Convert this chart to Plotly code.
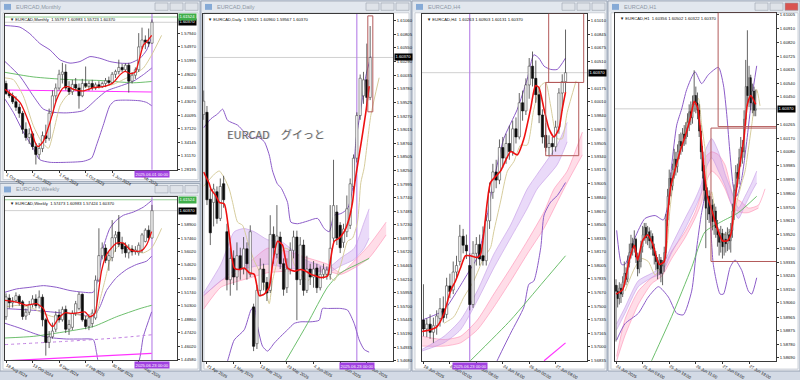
import plotly.graph_objects as go

W, H = 800, 380
FONT = "Liberation Sans"
AXF = 4.2

# ======================= DATA =======================
# ---- Monthly (Oct 2021 .. Jun 2025) ----
m_open = [1.4700,1.4480,1.4430,1.4300,1.4180,1.4050,1.3700,1.3520,1.3600,1.3320,1.3150,1.3280,1.3560,1.3500,1.4050,
          1.4430,1.4600,1.4900,1.4950,1.4600,1.4520,1.4680,1.4600,1.4430,1.4700,1.4640,1.4700,1.4600,1.4670,1.4630,
          1.4700,1.4760,1.4720,1.4900,1.4960,1.5050,1.5000,1.5100,1.4750,1.4880,1.5000,1.5500,1.5650,1.5600,1.5580]
m_high = [1.4760,1.4560,1.4500,1.4420,1.4260,1.4100,1.3850,1.3720,1.3650,1.3400,1.3400,1.3650,1.3800,1.4150,1.4550,
          1.4700,1.5000,1.5150,1.5120,1.4750,1.4780,1.4820,1.4700,1.4800,1.5070,1.4760,1.4780,1.4720,1.4750,1.4740,
          1.4820,1.4850,1.4950,1.5000,1.5220,1.5130,1.5140,1.5150,1.4950,1.5050,1.5800,1.5920,1.5750,1.5900,1.6098]
m_low = [1.4450,1.4380,1.4250,1.4100,1.3950,1.3600,1.3450,1.3380,1.3250,1.2930,1.3050,1.3200,1.3400,1.3450,1.4000,
         1.4300,1.4550,1.4700,1.4550,1.4450,1.4450,1.4550,1.4150,1.4400,1.4600,1.4540,1.4550,1.4560,1.4590,1.4600,
         1.4620,1.4680,1.4690,1.4820,1.4900,1.4950,1.4950,1.4500,1.4700,1.4800,1.4950,1.5450,1.5450,1.5500,1.5572]
m_close = [1.4480,1.4430,1.4300,1.4180,1.4050,1.3700,1.3520,1.3600,1.3320,1.3150,1.3280,1.3560,1.3500,1.4050,1.4430,
           1.4600,1.4900,1.4950,1.4600,1.4520,1.4680,1.4600,1.4430,1.4700,1.4640,1.4700,1.4600,1.4670,1.4630,1.4700,
           1.4760,1.4720,1.4900,1.4960,1.5050,1.5000,1.5100,1.4750,1.4880,1.5000,1.5500,1.5650,1.5600,1.5580,1.6037]
m_date_pos = [0, 8, 16, 24, 32, 40]
m_date_txt = ["1 Oct 2021", "1 Jun 2022", "1 Feb 2023", "1 Oct 2023", "1 Jun 2024", "1 Feb 2025"]
m_price_txt = ["1.57940","1.54970","1.51995","1.49020","1.46045","1.43070","1.40095","1.37120","1.34145","1.31170","1.28195"]
m_bb_up = [(-0.3,1.5966),(4.2,1.5930),(7.2,1.5787),(10.2,1.5573),(13.3,1.5430),(16.3,1.5215),(19.3,1.5144),(22.3,1.5179),
           (25.3,1.5287),(28.3,1.5251),(31.3,1.5179),(34.4,1.5144),(37.4,1.5144),(40.4,1.5251),(42.4,1.5430),(43.9,1.5716)]
m_bb_mid = [(-0.3,1.5179),(4.2,1.4857),(8.2,1.4429),(11.2,1.4143),(14.3,1.4071),(18.3,1.4057),(23.3,1.4107),(27.3,1.4357),
            (30.3,1.4536),(34.4,1.4643),(38.4,1.4750),(41.4,1.4893),(43.9,1.5036)]
m_bb_lo = [(-0.3,1.4357),(2.2,1.4071),(5.2,1.3642),(8.2,1.3285),(10.2,1.3034),(13.3,1.2977),(18.3,1.2977),(23.3,1.2999),
           (25.8,1.3070),(27.3,1.3356),(29.3,1.3785),(31.3,1.4214),(32.8,1.4321),(36.4,1.4336),(40.4,1.4321),(42.4,1.4285),(43.9,1.4214)]
m_beige = [(-0.3,1.4822),(2.2,1.4786),(5.2,1.4429),(8.2,1.3785),(10.7,1.3428),(12.8,1.3285),(14.3,1.3642),(16.3,1.4214),
           (18.3,1.4429),(21.3,1.4572),(24.3,1.4629),(28.3,1.4629),(32.3,1.4679),(35.4,1.4786),(38.4,1.4893),(41.4,1.5036),
           (43.9,1.5322),(46.9,1.5751)]
m_red = [(-0.3,1.4572),(4.2,1.4285),(7.2,1.3785),(8.7,1.3428),(9.7,1.3320),(11.2,1.3428),(13.3,1.3857),(15.3,1.4357),
         (17.3,1.4607),(18.8,1.4629),(20.3,1.4572),(23.3,1.4536),(26.3,1.4607),(29.3,1.4629),(32.3,1.4715),(34.4,1.4893),
         (35.9,1.4965),(37.4,1.4915),(38.9,1.4943),(40.4,1.5287),(41.4,1.5537),(42.4,1.5608),(43.9,1.5751)]
m_green = [(-0.3,1.4943),(8.2,1.4843),(18.3,1.4786),(28.3,1.4765),(38.4,1.4715),(43.9,1.4743)]
m_magenta = [(-0.3,1.4557),(43.9,1.4514)]

# ---- Weekly (18 Aug 2024 .. 22 Jun 2025) ----
w_open = [1.4913,1.5110,1.5060,1.5085,1.5130,1.5070,1.4920,1.4960,1.5040,1.5100,1.5030,1.5120,1.4880,1.4640,1.4700,
          1.4780,1.4930,1.4880,1.4990,1.4780,1.4800,1.4950,1.5000,1.5150,1.4880,1.4810,1.4840,1.4900,1.5300,1.5560,
          1.5640,1.5510,1.5540,1.5750,1.5810,1.5690,1.5660,1.5590,1.5630,1.5600,1.5590,1.5620,1.5710,1.5830,1.5747]
w_high = [1.5160,1.5150,1.5120,1.5170,1.5150,1.5090,1.5000,1.5080,1.5140,1.5150,1.5191,1.5150,1.4900,1.4760,1.4850,
          1.4970,1.4990,1.5020,1.5030,1.4880,1.4980,1.5080,1.5174,1.5160,1.4920,1.4940,1.4990,1.5350,1.5850,1.5700,
          1.5680,1.5600,1.5936,1.5820,1.5990,1.5760,1.5700,1.5680,1.5670,1.5660,1.5700,1.5800,1.5850,1.5880,1.6098]
w_low = [1.4880,1.5000,1.5010,1.5060,1.5030,1.4880,1.4880,1.4930,1.5010,1.5000,1.5000,1.4810,1.4500,1.4580,1.4680,
         1.4750,1.4850,1.4860,1.4740,1.4720,1.4770,1.4920,1.4980,1.4860,1.4780,1.4770,1.4800,1.4880,1.5280,1.5520,
         1.5480,1.5400,1.5500,1.5600,1.5650,1.5580,1.5540,1.5530,1.5560,1.5570,1.5560,1.5590,1.5700,1.5720,1.5742]
w_close = [1.5122,1.5060,1.5080,1.5135,1.5060,1.4915,1.4960,1.5040,1.5100,1.5030,1.5120,1.4880,1.4640,1.4700,1.4760,
           1.4930,1.4880,1.4990,1.4780,1.4830,1.4950,1.5050,1.5150,1.4880,1.4810,1.4900,1.4950,1.5300,1.5560,1.5640,
           1.5510,1.5560,1.5750,1.5780,1.5680,1.5630,1.5590,1.5630,1.5600,1.5620,1.5670,1.5780,1.5830,1.5750,1.6037]
w_date_pos = [0, 8, 16, 24, 32, 40]
w_date_txt = ["18 Aug 2024", "13 Oct 2024", "8 Dec 2024", "2 Feb 2025", "30 Mar 2025", "25 May 2025"]
w_price_txt = ["1.58900","1.57460","1.56020","1.54620","1.53180","1.51740","1.50300","1.48860","1.47420","1.46020","1.44580"]
w_bb_up = [(-0.3,1.5172),(3.2,1.5207),(7.2,1.5224),(11.3,1.5242),(15.3,1.5224),(19.3,1.5190),(23.3,1.5172),(26.3,1.5172),
           (27.8,1.5328),(29.3,1.5641),(31.3,1.5849),(33.3,1.5935),(35.4,1.5988),(38.4,1.6022),(41.4,1.6074),(43.9,1.6144)]
w_bb_mid = [(-0.3,1.4999),(8.2,1.4981),(18.3,1.4947),(23.3,1.4930),(26.3,1.4912),(28.3,1.5016),(30.3,1.5190),(33.3,1.5328),
            (36.4,1.5415),(39.4,1.5467),(42.4,1.5502),(43.9,1.5554)]
w_bb_lo = [(-0.3,1.4843),(4.2,1.4791),(8.2,1.4738),(11.3,1.4704),(14.3,1.4687),(18.3,1.4676),(22.3,1.4676),(26.3,1.4669),
           (27.3,1.4531),(28.3,1.4392),(39.4,1.4392),(41.4,1.4704),(43.9,1.4964)]
w_beige = [(-0.3,1.5016),(4.2,1.5034),(8.2,1.4999),(11.3,1.4947),(14.3,1.4912),(18.3,1.4947),(22.3,1.4930),(25.3,1.4912),
           (27.3,1.4947),(28.3,1.5086),(29.8,1.5294),(31.3,1.5502),(33.3,1.5641),(35.4,1.5693),(37.4,1.5641),(39.4,1.5606),
           (41.4,1.5589),(43.9,1.5641),(46.9,1.5849)]
w_red = [(-0.3,1.5086),(3.2,1.5068),(6.2,1.5034),(9.2,1.5051),(11.3,1.4999),(12.8,1.4860),(14.1,1.4808),(15.8,1.4895),
         (17.8,1.4954),(19.8,1.4947),(21.8,1.4954),(23.8,1.4964),(25.3,1.4912),(26.8,1.4947),(27.8,1.5155),(28.8,1.5398),
         (30.3,1.5571),(31.8,1.5641),(33.3,1.5693),(35.4,1.5693),(37.4,1.5623),(39.4,1.5606),(40.9,1.5613),(42.4,1.5675),(43.9,1.5814)]
w_green = [(-0.3,1.4687),(8.2,1.4704),(18.3,1.4756),(26.3,1.4808),(33.3,1.4912),(40.4,1.4999),(43.9,1.5034)]
w_dotted = [(-0.3,1.4617),(18.3,1.4652),(33.3,1.4687),(43.9,1.4721)]
w_magenta = [(-0.3,1.4444),(43.9,1.4524)]

# ---- Daily (bars -1 .. 49, 0 = 21 Apr 2025) ----
d_open = [1.5930,1.5934,1.5771,1.5765,1.5785,1.5735,1.5800,1.5710,1.5620,1.5660,1.5625,1.5665,1.5640,1.5678,1.5630,1.5569,
          1.5500,1.5600,1.5640,1.5615,1.5600,1.5705,1.5668,1.5700,1.5650,1.5605,1.5640,1.5675,1.5700,1.5620,1.5685,1.5600,
          1.5640,1.5625,1.5642,1.5605,1.5630,1.5630,1.5630,1.5698,1.5747,1.5722,1.5690,1.5710,1.5722,1.5795,1.5848,1.5928,
          1.5965,1.5995,1.5962]
d_high = [1.5975,1.5946,1.5790,1.5800,1.5795,1.5810,1.5815,1.5725,1.5680,1.5675,1.5690,1.5680,1.5700,1.5690,1.5722,1.5575,
          1.5610,1.5660,1.5650,1.5625,1.5741,1.5720,1.5760,1.5710,1.5660,1.5660,1.5690,1.5712,1.5712,1.5700,1.5695,1.5665,
          1.5650,1.5655,1.5650,1.5645,1.5650,1.5645,1.5760,1.5845,1.5760,1.5728,1.5725,1.5778,1.5810,1.5855,1.5934,1.6005,
          1.6010,1.6063,1.6096]
d_low = [1.5920,1.5760,1.5685,1.5720,1.5725,1.5730,1.5755,1.5600,1.5590,1.5610,1.5600,1.5620,1.5630,1.5620,1.5625,1.5486,
         1.5490,1.5590,1.5600,1.5580,1.5595,1.5650,1.5660,1.5640,1.5590,1.5595,1.5630,1.5660,1.5544,1.5610,1.5590,1.5595,
         1.5610,1.5605,1.5595,1.5600,1.5622,1.5620,1.5620,1.5690,1.5685,1.5670,1.5680,1.5700,1.5715,1.5785,1.5840,1.5920,
         1.5950,1.5945,1.5957]
d_close = [1.5955,1.5770,1.5708,1.5790,1.5735,1.5795,1.5770,1.5620,1.5660,1.5625,1.5665,1.5640,1.5678,1.5650,1.5710,1.5495,
           1.5600,1.5640,1.5615,1.5595,1.5705,1.5680,1.5702,1.5650,1.5602,1.5640,1.5675,1.5700,1.5620,1.5685,1.5600,1.5640,
           1.5625,1.5640,1.5605,1.5630,1.5640,1.5638,1.5679,1.5759,1.5698,1.5680,1.5715,1.5753,1.5800,1.5848,1.5928,1.5998,
           1.5995,1.5962,1.6037]
d_date_pos = [0, 8, 16, 24, 32, 40, 48]
d_date_txt = ["21 Apr 2025", "1 May 2025", "13 May 2025", "23 May 2025", "4 Jun 2025", "16 Jun 2025", "26 Jun 2025"]
d_price_txt = ["1.61060","1.60805","1.60550","1.60290","1.60035","1.59780","1.59525","1.59270","1.59015","1.58760","1.58505",
               "1.58250","1.57995","1.57740","1.57485","1.57230","1.56975","1.56720","1.56465","1.56210","1.55955","1.55700",
               "1.55445","1.55190","1.54935","1.54680"]
d_bb_up = [(-1.0,1.5905),(1.2,1.5922),(3.2,1.5931),(4.7,1.5940),(6.2,1.5919),(9.2,1.5910),(11.2,1.5897),(13.2,1.5885),
           (15.2,1.5888),(17.2,1.5879),(18.7,1.5854),(19.7,1.5824),(21.2,1.5799),(22.2,1.5793),(24.2,1.5765),(25.2,1.5728),
           (27.2,1.5725),(30.2,1.5730),(33.2,1.5735),(35.2,1.5716),(36.7,1.5710),(38.2,1.5741),(40.2,1.5744),(42.2,1.5753),
           (43.7,1.5790),(44.7,1.5879),(46.2,1.5940),(47.7,1.6002),(49.2,1.6039)]
d_bb_lo = [(4.5,1.5440),(6.2,1.5468),(8.2,1.5507),(11.2,1.5526),(13.2,1.5563),(14.2,1.5569),(15.2,1.5532),(16.7,1.5495),
           (18.2,1.5486),(20.2,1.5501),(22.2,1.5514),(24.2,1.5526),(26.2,1.5538),(28.2,1.5541),(31.2,1.5541),(33.7,1.5544),
           (34.7,1.5566),(36.2,1.5566),(40.2,1.5566),(42.2,1.5563),(44.2,1.5538),(45.7,1.5507),(47.2,1.5489),(48.7,1.5484)]
d_red = [(-1.0,1.5822),(0.7,1.5800),(1.2,1.5790),(2.7,1.5777),(3.7,1.5765),(5.2,1.5762),(6.7,1.5704),(8.2,1.5642),
         (9.7,1.5639),(11.2,1.5642),(12.7,1.5633),(14.2,1.5630),(15.7,1.5590),(17.2,1.5593),(18.7,1.5606),(19.7,1.5649),
         (21.2,1.5692),(22.7,1.5685),(24.2,1.5642),(26.2,1.5636),(28.2,1.5639),(29.7,1.5636),(31.2,1.5630),(32.7,1.5627),
         (34.2,1.5624),(36.2,1.5627),(37.2,1.5661),(38.2,1.5692),(39.7,1.5698),(41.2,1.5710),(42.7,1.5735),(43.7,1.5765),
         (44.4,1.5802),(46.2,1.5873),(47.7,1.5934),(48.7,1.5983)]
d_beige = [(-1.0,1.5795),(2.2,1.5818),(3.7,1.5824),(5.2,1.5811),(6.7,1.5790),(7.7,1.5765),(9.2,1.5728),(10.7,1.5722),
           (12.2,1.5692),(14.2,1.5655),(16.2,1.5630),(17.7,1.5599),(18.7,1.5575),(19.7,1.5618),(21.2,1.5655),(23.2,1.5679),
           (24.7,1.5676),(26.2,1.5649),(28.2,1.5630),(30.2,1.5618),(32.2,1.5630),(34.2,1.5624),(36.2,1.5630),(38.2,1.5618),
           (40.2,1.5649),(42.2,1.5692),(43.7,1.5698),(45.2,1.5728),(46.2,1.5802),(47.2,1.5830),(49.2,1.5928),(51.7,1.5999)]
d_green = [(23.7,1.5468),(30.2,1.5538),(36.2,1.5606),(40.2,1.5633),(45.2,1.5649),(48.7,1.5660)]
d_rib_pu_hi = [(-1.0,1.5595),(4.2,1.5649),(8.2,1.5710),(11.2,1.5716),(14.2,1.5710),(18.2,1.5695),(22.2,1.5692),(26.2,1.5673),
               (30.2,1.5655),(33.2,1.5649),(36.2,1.5642),(40.2,1.5661),(44.2,1.5679),(47.2,1.5728),(48.7,1.5753)]
d_rib_pu_lo = [(-1.0,1.5590),(4.2,1.5618),(8.2,1.5636),(12.2,1.5642),(18.2,1.5649),(24.2,1.5642),(30.2,1.5639),(36.2,1.5633),
               (40.2,1.5646),(44.2,1.5658),(47.2,1.5679),(48.7,1.5698)]
d_rib_pk_hi = [(-1.0,1.5590),(4.2,1.5618),(8.2,1.5630),(13.2,1.5655),(18.2,1.5679),(24.2,1.5673),(30.2,1.5661),(36.2,1.5649),
               (40.2,1.5633),(44.2,1.5655),(48.7,1.5685),(53.8,1.5728)]
d_rib_pk_lo = [(-1.0,1.5565),(4.2,1.5606),(8.2,1.5615),(13.2,1.5624),(18.2,1.5633),(24.2,1.5636),(30.2,1.5636),(36.2,1.5636),
               (40.2,1.5630),(44.2,1.5642),(48.7,1.5661),(53.8,1.5704)]

# ---- H4 (bars 0 .. 43, 0 = 18 Jun 16:00) ----
h4_open = [1.5733,1.5722,1.5728,1.5718,1.5726,1.5735,1.5747,1.5740,1.5775,1.5770,1.5792,1.5805,1.5836,1.5825,1.5800,
           1.5752,1.5815,1.5826,1.5812,1.5806,1.5855,1.5890,1.5915,1.5905,1.5945,1.5932,1.5950,1.5940,1.5968,1.5958,
           1.6000,1.5990,1.6022,1.6045,1.6030,1.6010,1.5985,1.5960,1.5945,1.5950,1.5946,1.5970,1.6012,1.6026]
h4_high = [1.5777,1.5735,1.5740,1.5736,1.5745,1.5760,1.5762,1.5785,1.5790,1.5805,1.5812,1.5850,1.5845,1.5838,1.5815,
           1.5830,1.5835,1.5838,1.5848,1.5862,1.5902,1.5925,1.5930,1.5955,1.5958,1.5962,1.5972,1.5978,1.5982,1.6012,
           1.6015,1.6030,1.6055,1.6063,1.6052,1.6018,1.5992,1.5975,1.5960,1.5958,1.5978,1.6018,1.6035,1.6090]
h4_low = [1.5713,1.5712,1.5710,1.5705,1.5715,1.5725,1.5730,1.5735,1.5760,1.5765,1.5783,1.5800,1.5815,1.5808,1.5745,
          1.5748,1.5800,1.5800,1.5800,1.5800,1.5845,1.5882,1.5895,1.5900,1.5920,1.5925,1.5930,1.5935,1.5950,1.5955,
          1.5978,1.5985,1.6005,1.6020,1.6000,1.5975,1.5950,1.5940,1.5934,1.5936,1.5940,1.5962,1.5990,1.6013]
h4_close = [1.5722,1.5728,1.5718,1.5726,1.5738,1.5747,1.5736,1.5775,1.5768,1.5792,1.5800,1.5836,1.5825,1.5818,1.5752,
            1.5815,1.5826,1.5808,1.5806,1.5855,1.5890,1.5915,1.5905,1.5945,1.5932,1.5950,1.5940,1.5968,1.5958,1.6000,
            1.5990,1.6022,1.6045,1.6030,1.6010,1.5985,1.5958,1.5945,1.5950,1.5946,1.5970,1.6012,1.6026,1.6037]
h4_date_pos = [0, 8, 16, 24, 32, 40]
h4_date_txt = ["18 Jun 2025", "20 Jun 00:00", "23 Jun 08:00", "24 Jun 16:00", "26 Jun 00:00", "27 Jun 08:00"]
# (the 1.60340 tick sits under the current-price box in the reference, so it is not listed)
h4_price_txt = ["1.61010","1.60845","1.60675","1.60510","1.60175","1.60010","1.59840","1.59675","1.59505","1.59340",
                "1.59175","1.59005","1.58840","1.58670","1.58505","1.58335","1.58170","1.58005","1.57835","1.57670","1.57500",
                "1.57335","1.57165","1.57000","1.56835"]
h4_bb_up = [(-0.4,1.5733),(2.1,1.5737),(6.2,1.5745),(10.2,1.5769),(13.2,1.5789),(16.3,1.5810),(18.3,1.5842),(19.3,1.5862),
            (21.3,1.5905),(24.3,1.5956),(28.4,1.5992),(31.4,1.6029),(33.4,1.6059),(34.9,1.6055),(36.5,1.6045),(38.5,1.6041),
            (40.5,1.6041),(43.0,1.6055)]
h4_bb_lo = [(20.0,1.5660),(22.3,1.5683),(26.4,1.5717),(30.4,1.5749),(31.9,1.5777),(33.4,1.5781),(35.5,1.5822),(36.5,1.5862),
            (38.5,1.5878),(40.5,1.5886),(43.0,1.5902)]
h4_red = [(-0.4,1.5719),(2.1,1.5721),(4.1,1.5725),(6.2,1.5741),(8.2,1.5769),(9.7,1.5781),(11.2,1.5797),(12.7,1.5812),
          (14.2,1.5812),(16.3,1.5810),(17.3,1.5814),(19.3,1.5878),(20.3,1.5902),(23.3,1.5916),(26.4,1.5940),(28.4,1.5936),
          (30.4,1.5956),(32.4,1.5992),(33.9,1.6021),(34.9,1.6019),(36.5,1.5992),(38.0,1.5968),(39.5,1.5958),(41.0,1.5968),
          (42.0,1.5992),(43.0,1.6013)]
h4_beige = [(6.2,1.5729),(9.2,1.5737),(12.2,1.5761),(15.2,1.5781),(18.3,1.5810),(20.3,1.5822),(21.3,1.5842),(23.3,1.5878),
            (25.4,1.5916),(27.4,1.5928),(29.4,1.5948),(31.4,1.5948),(33.4,1.5992),(35.5,1.6021),(37.0,1.6025),(38.5,1.5996),
            (40.5,1.5956),(42.0,1.5956),(43.5,1.5988),(46.2,1.6027)]
h4_green = [(14.2,1.5683),(26.4,1.5733),(36.5,1.5781),(43.0,1.5812)]
h4_magenta = [(36.5,1.5683),(43.0,1.5705)]
h4_rib_pu_hi = [(-0.4,1.5697),(6.2,1.5713),(11.2,1.5733),(16.3,1.5769),(21.3,1.5814),(26.4,1.5850),(31.4,1.5894),
                (34.4,1.5912),(40.5,1.5948),(43.5,1.5976)]
h4_rib_pu_lo = [(-0.4,1.5695),(6.2,1.5705),(11.2,1.5721),(16.3,1.5757),(21.3,1.5797),(26.4,1.5834),(31.4,1.5870),
                (34.4,1.5894),(40.5,1.5924),(43.5,1.5952)]
h4_rib_pk_hi = [(-0.4,1.5713),(6.2,1.5709),(11.2,1.5713),(16.3,1.5733),(21.3,1.5765),(26.4,1.5797),(31.4,1.5830),
                (36.5,1.5866),(39.5,1.5894),(43.5,1.5916),(48.1,1.5964)]
h4_rib_pk_lo = [(-0.4,1.5701),(6.2,1.5701),(11.2,1.5705),(16.3,1.5721),(21.3,1.5749),(26.4,1.5781),(31.4,1.5814),
                (36.5,1.5846),(41.0,1.5882),(43.5,1.5902),(48.1,1.5936)]

# ---- H1 (bars 0 .. 84, 0 = 24 Jun 11:00) ----
h1_open0 = 1.5918
h1_close = [1.5914,1.5909,1.5916,1.5912,1.5920,1.5926,1.5922,1.5933,1.5940,1.5946,1.5943,1.5949,1.5937,1.5929,1.5934,
            1.5944,1.5952,1.5957,1.5950,1.5954,1.5948,1.5951,1.5943,1.5938,1.5934,1.5929,1.5935,1.5926,1.5931,1.5940,
            1.5962,1.5978,1.5990,1.5985,1.5996,1.6003,1.5998,1.6008,1.6015,1.6012,1.6020,1.6017,1.6024,1.6028,1.6035,
            1.6031,1.6040,1.6046,1.6041,1.6036,1.6022,1.6008,1.5995,1.5982,1.5970,1.5978,1.5966,1.5972,1.5961,1.5968,
            1.5957,1.5952,1.5947,1.5953,1.5944,1.5949,1.5946,1.5952,1.5948,1.5955,1.5968,1.5982,1.5994,1.5990,1.6004,
            1.6011,1.6008,1.6030,1.6052,1.6046,1.6058,1.6041,1.6049,1.6036,1.6037]
h1_high = [1.5922,1.5918,1.5920,1.5919,1.5924,1.5934,1.5930,1.5938,1.5946,1.5952,1.5950,1.5955,1.5950,1.5940,1.5940,
           1.5948,1.5958,1.5960,1.5960,1.5958,1.5957,1.5955,1.5953,1.5946,1.5941,1.5937,1.5939,1.5937,1.5935,1.5944,
           1.5966,1.5983,1.5996,1.5994,1.6000,1.6010,1.6008,1.6013,1.6020,1.6021,1.6024,1.6026,1.6028,1.6034,1.6040,
           1.6042,1.6046,1.6063,1.6052,1.6048,1.6040,1.6026,1.6012,1.5999,1.5986,1.5984,1.5982,1.5978,1.5976,1.5973,
           1.5971,1.5962,1.5956,1.5958,1.5956,1.5953,1.5954,1.5957,1.5956,1.5960,1.5973,1.5986,1.5999,1.6000,1.6010,
           1.6018,1.6016,1.6036,1.6070,1.6090,1.6066,1.6060,1.6054,1.6052,1.6050]
h1_low = [1.5880,1.5903,1.5905,1.5906,1.5910,1.5917,1.5918,1.5920,1.5930,1.5936,1.5938,1.5940,1.5933,1.5924,1.5926,
          1.5930,1.5940,1.5948,1.5946,1.5945,1.5943,1.5942,1.5938,1.5932,1.5928,1.5922,1.5925,1.5920,1.5918,1.5927,
          1.5936,1.5958,1.5972,1.5978,1.5982,1.5990,1.5992,1.5994,1.6003,1.6006,1.6008,1.6012,1.6013,1.6018,1.6022,
          1.6026,1.6027,1.6035,1.6034,1.6030,1.6018,1.6003,1.5990,1.5975,1.5943,1.5962,1.5960,1.5958,1.5955,1.5952,
          1.5950,1.5944,1.5938,1.5940,1.5936,1.5938,1.5940,1.5941,1.5942,1.5940,1.5950,1.5962,1.5978,1.5984,1.5986,
          1.5998,1.6000,1.6004,1.6026,1.6040,1.6038,1.6036,1.6034,1.6032,1.6032]
h1_date_pos = [0, 16, 32, 48, 64, 80]
h1_date_txt = ["24 Jun 2025", "25 Jun 03:00", "25 Jun 19:00", "26 Jun 11:00", "27 Jun 03:00", "27 Jun 19:00"]
# (the 1.60355 tick sits under the current-price box in the reference, so it is not listed)
h1_price_txt = ["1.61005","1.60910","1.60820","1.60725","1.60635","1.60540","1.60450","1.60265","1.60170","1.60080",
                "1.59985","1.59895","1.59800","1.59705","1.59615","1.59520","1.59430","1.59335","1.59245","1.59150","1.59060",
                "1.58965","1.58875","1.58780","1.58690"]
h1_bb_up = [(0.4,1.5955),(3.4,1.5932),(5.4,1.5932),(11.4,1.5950),(17.4,1.5963),(23.5,1.5965),(28.5,1.5962),(31.5,1.5974),
            (32.5,1.5987),(33.5,1.5999),(36.5,1.6026),(39.5,1.6037),(42.5,1.6050),(47.5,1.6062),(51.5,1.6054),(55.5,1.6060),
            (61.6,1.6065),(64.6,1.6053),(66.6,1.6033),(68.6,1.6006),(70.6,1.5984),(72.6,1.5978),(75.6,1.5990),(78.6,1.6015),
            (81.6,1.6044),(84.6,1.6066)]
h1_bb_lo = [(0.4,1.5881),(5.4,1.5892),(13.4,1.5899),(19.4,1.5910),(25.5,1.5917),(31.5,1.5910),(36.5,1.5899),(40.5,1.5898),
            (45.5,1.5914),(48.5,1.5943),(51.5,1.5967),(54.5,1.5982),(56.5,1.5965),(58.5,1.5932),(62.6,1.5912),(64.6,1.5912),
            (68.6,1.5930),(71.6,1.5935),(75.6,1.5928),(79.6,1.5914),(81.6,1.5912),(84.6,1.5923)]
h1_red = [(0,1.5912),(4,1.5915),(8,1.5935),(11,1.5945),(13,1.5935),(16,1.5948),(19,1.5952),(22,1.5946),(26,1.5932),
          (29,1.5934),(31,1.5965),(33,1.5985),(36,1.5998),(39,1.6010),(42,1.6020),(45,1.6032),(47,1.6042),(49,1.6038),
          (51,1.6020),(53,1.5995),(55,1.5978),(58,1.5967),(61,1.5956),(64,1.5948),(67,1.5948),(69,1.5952),(71,1.5970),
          (73,1.5988),(75,1.6003),(77,1.6018),(79,1.6040),(81,1.6046),(84,1.6040)]
h1_beige = [(5.4,1.5914),(11.4,1.5930),(15.4,1.5936),(19.4,1.5934),(23.5,1.5925),(27.5,1.5932),(30.5,1.5943),(32.5,1.5970),
            (35.5,1.5995),(39.5,1.6013),(43.5,1.6033),(46.5,1.6039),(49.5,1.6044),(51.5,1.6026),(53.5,1.6010),(55.5,1.5974),
            (57.5,1.5981),(61.6,1.5954),(65.6,1.5952),(69.6,1.5956),(72.6,1.5974),(75.6,1.5987),(77.6,1.5995),(81.6,1.6026),
            (84.6,1.6050),(86.6,1.6039)]
h1_green = [(21.4,1.5867),(33.5,1.5897),(45.5,1.5930),(53.5,1.5954),(63.6,1.5961),(73.6,1.5967),(84.6,1.5978)]
h1_rib_pk_hi = [(0.4,1.5870),(5.4,1.5895),(13.4,1.5914),(21.4,1.5923),(27.5,1.5928),(33.5,1.5941),(41.5,1.5954),(47.5,1.5967),
                (51.5,1.5981),(53.5,1.6004),(57.5,1.6008),(61.6,1.6006),(65.6,1.5999),(68.6,1.5986),(70.6,1.5978),(75.6,1.5974),
                (79.6,1.5970),(85.6,1.5972),(89.6,1.5983)]
h1_rib_pk_lo = [(0.4,1.5867),(5.4,1.5884),(13.4,1.5905),(21.4,1.5919),(27.5,1.5924),(33.5,1.5936),(41.5,1.5950),(47.5,1.5963),
                (51.5,1.5974),(53.5,1.5985),(57.5,1.5995),(61.6,1.5991),(65.6,1.5983),(70.6,1.5970),(75.6,1.5967),(79.6,1.5967),
                (85.6,1.5970)]
h1_rib_pu_hi = [(0.4,1.5892),(5.4,1.5903),(13.4,1.5921),(21.4,1.5926),(27.5,1.5930),(33.5,1.5945),(41.5,1.5963),(47.5,1.5976),
                (51.5,1.5987),(53.5,1.6008),(57.5,1.6017),(61.6,1.6008),(65.6,1.5993),(69.6,1.5981),(73.6,1.5970),(77.6,1.5978),
                (81.6,1.5987),(84.6,1.5995)]
h1_rib_pu_lo = [(0.4,1.5888),(5.4,1.5899),(13.4,1.5917),(21.4,1.5923),(27.5,1.5926),(33.5,1.5940),(41.5,1.5956),(47.5,1.5970),
                (51.5,1.5981),(53.5,1.5995),(57.5,1.6004),(61.6,1.5995),(65.6,1.5985),(69.6,1.5972),(73.6,1.5963),(77.6,1.5972),
                (81.6,1.5981),(84.6,1.5987)]

current_price = 1.6037
current_txt = "1.60370"
level_price = 1.6152
level_txt = "1.61524"

# ======================= FIGURE =======================
fig = go.Figure()

def ax(n):
    return ("x", "y") if n == 1 else (f"x{n}", f"y{n}")

def add_xy(n, xs, ys, color, width=1.0, dash=None, fill=None, fillcolor=None):
    xa, ya = ax(n)
    fig.add_trace(go.Scatter(x=xs, y=ys, xaxis=xa, yaxis=ya, mode="lines",
                             line=dict(color=color, width=width, dash=dash, shape="spline", smoothing=0.6),
                             fill=fill, fillcolor=fillcolor, hoverinfo="skip", showlegend=False))

def add_pts(n, pts, color, width=1.0, dash=None):
    add_xy(n, [p[0] for p in pts], [p[1] for p in pts], color, width, dash)

def add_ribbon(n, lo, hi, edge, fillc):
    add_pts(n, lo, edge, 0.6)
    add_xy(n, [p[0] for p in hi], [p[1] for p in hi], edge, 0.6, fill="tonexty", fillcolor=fillc)

def add_candles(n, xs, o, h, l, c, hw, minh):
    xa, ya = ax(n)
    wx, wy = [], []
    for xi, hi, lo in zip(xs, h, l):
        wx += [xi, xi, None]
        wy += [lo, hi, None]
    fig.add_trace(go.Scatter(x=wx, y=wy, xaxis=xa, yaxis=ya, mode="lines",
                             line=dict(color="#3c3c3c", width=0.8), hoverinfo="skip", showlegend=False))
    for up in (True, False):
        bx, by = [], []
        for xi, oo, cc in zip(xs, o, c):
            if (cc >= oo) != up:
                continue
            lo_, hi_ = min(oo, cc), max(oo, cc)
            if hi_ - lo_ < minh:
                hi_ = lo_ + minh
            bx += [xi - hw, xi + hw, xi + hw, xi - hw, xi - hw, None]
            by += [lo_, lo_, hi_, hi_, lo_, None]
        fig.add_trace(go.Scatter(x=bx, y=by, xaxis=xa, yaxis=ya, mode="lines", fill="toself",
                                 fillcolor="#ffffff" if up else "#0c0c0c",
                                 line=dict(color="#4a4a4a" if up else "#0c0c0c", width=0.6),
                                 hoverinfo="skip", showlegend=False))

BB = "#8c5cc8"
RED = "#ee1010"
BEIGE = "#d6cc9c"
GREEN = "#5cb85c"
MAG = "#ff33ff"
PU_EDGE, PU_FILL = "#c49ae6", "rgba(190,140,235,0.32)"
PK_EDGE, PK_FILL = "#ff8fb3", "rgba(255,150,185,0.32)"

# --- panel 1 Monthly ---
add_pts(1, m_bb_up, BB); add_pts(1, m_bb_mid, BB); add_pts(1, m_bb_lo, BB)
add_pts(1, m_green, GREEN, 0.9); add_pts(1, m_magenta, MAG, 1.2); add_pts(1, m_beige, BEIGE)
add_candles(1, list(range(len(m_close))), m_open, m_high, m_low, m_close, 0.34, 0.0012)
add_pts(1, m_red, RED, 1.3)

# --- panel 2 Weekly ---
add_pts(2, w_bb_up, BB); add_pts(2, w_bb_mid, BB); add_pts(2, w_bb_lo, BB)
add_pts(2, w_green, GREEN, 0.9); add_pts(2, w_dotted, "#c080e0", 1.0, "dot"); add_pts(2, w_magenta, MAG, 1.2)
add_pts(2, w_beige, BEIGE)
add_candles(2, list(range(len(w_close))), w_open, w_high, w_low, w_close, 0.34, 0.0006)
add_pts(2, w_red, RED, 1.3)

# --- panel 3 Daily ---
add_ribbon(3, d_rib_pk_lo, d_rib_pk_hi, PK_EDGE, PK_FILL)
add_ribbon(3, d_rib_pu_lo, d_rib_pu_hi, PU_EDGE, PU_FILL)
add_pts(3, d_bb_up, BB); add_pts(3, d_bb_lo, BB)
add_pts(3, d_green, GREEN, 0.9); add_pts(3, d_beige, BEIGE)
add_candles(3, list(range(-1, len(d_close) - 1)), d_open, d_high, d_low, d_close, 0.34, 0.00012)
add_pts(3, d_red, RED, 1.6)

# --- panel 4 H4 ---
add_ribbon(4, h4_rib_pk_lo, h4_rib_pk_hi, PK_EDGE, PK_FILL)
add_ribbon(4, h4_rib_pu_lo, h4_rib_pu_hi, PU_EDGE, PU_FILL)
add_pts(4, h4_bb_up, BB); add_pts(4, h4_bb_lo, BB)
add_pts(4, h4_green, GREEN, 0.9); add_pts(4, h4_magenta, MAG, 1.2); add_pts(4, h4_beige, BEIGE)
add_candles(4, list(range(len(h4_close))), h4_open, h4_high, h4_low, h4_close, 0.34, 0.00008)
add_pts(4, h4_red, RED, 1.6)

# --- panel 5 H1 ---
h1_open = [h1_open0] + h1_close[:-1]
add_ribbon(5, h1_rib_pk_lo, h1_rib_pk_hi, PK_EDGE, PK_FILL)
add_ribbon(5, h1_rib_pu_lo, h1_rib_pu_hi, PU_EDGE, PU_FILL)
add_pts(5, h1_bb_up, BB); add_pts(5, h1_bb_lo, BB)
add_pts(5, h1_green, GREEN, 0.9); add_pts(5, h1_beige, BEIGE)
add_candles(5, list(range(len(h1_close))), h1_open, h1_high, h1_low, h1_close, 0.32, 0.00004)
add_pts(5, h1_red, RED, 1.6)

# ---------------- axes ----------------
PANELS = {
    1: dict(px=(5, 177), py=(13, 172), xr=[-0.3, 51.54], yr=[1.2813, 1.6223], xt=m_date_pos, xtt=m_date_txt, yt=m_price_txt),
    2: dict(px=(5, 177), py=(200, 366), xr=[-0.3, 51.54], yr=[1.4451, 1.6178], xt=w_date_pos, xtt=w_date_txt, yt=w_price_txt),
    3: dict(px=(203.3, 393), py=(13, 367), xr=[-1.1, 55.86], yr=[1.5467, 1.6119], xt=d_date_pos, xtt=d_date_txt, yt=d_price_txt),
    4: dict(px=(422, 587), py=(13, 367), xr=[-0.45, 49.5], yr=[1.56824, 1.61094], xt=h4_date_pos, xtt=h4_date_txt, yt=h4_price_txt),
    5: dict(px=(615, 776), py=(12, 367), xr=[-0.6, 96.2], yr=[1.58667, 1.61018], xt=h1_date_pos, xtt=h1_date_txt, yt=h1_price_txt),
}
tf = dict(family=FONT, size=AXF, color="#111111")
for n, P in PANELS.items():
    xa, ya = ax(n)
    xk = "xaxis" if n == 1 else f"xaxis{n}"
    yk = "yaxis" if n == 1 else f"yaxis{n}"
    fig.update_layout(**{
        xk: dict(domain=[P["px"][0] / W, P["px"][1] / W], range=P["xr"], anchor=ya,
                 tickvals=P["xt"], ticktext=P["xtt"], ticks="outside", ticklen=2, tickwidth=0.8, tickcolor="#333",
                 ticklabelposition="outside right", tickfont=tf, showgrid=False, zeroline=False,
                 showline=True, mirror=True, linecolor="#3a3a3a", linewidth=1, fixedrange=True),
        yk: dict(domain=[1 - P["py"][1] / H, 1 - P["py"][0] / H], range=P["yr"], anchor=xa, side="right",
                 tickvals=[float(t) for t in P["yt"]], ticktext=P["yt"], ticks="outside", ticklen=2, tickwidth=0.8,
                 tickcolor="#333", tickfont=tf, showgrid=False, zeroline=False,
                 showline=True, mirror=True, linecolor="#3a3a3a", linewidth=1, fixedrange=True),
    })

# ---------------- window chrome ----------------
shapes, anns = [], []
wins = [(0, 0, 200, 184, "EURCAD,Monthly", False), (0, 186, 200, 377, "EURCAD,Weekly", False),
        (201, 0, 411, 377, "EURCAD,Daily", False), (412, 0, 607, 377, "EURCAD,H4", False),
        (608, 0, 800, 377, "EURCAD,H1", True)]

def prect(x0, y0, x1, y1, fill, line=None, lw=0, layer="below"):
    shapes.append(dict(type="rect", xref="paper", yref="paper", x0=x0 / W, x1=x1 / W, y0=1 - y1 / H, y1=1 - y0 / H,
                       fillcolor=fill, line=dict(color=line or fill, width=lw), layer=layer))

for (x0, y0, x1, y1, title, active) in wins:
    prect(x0, y0, x1, y1, "#eef1f5", "#9ba6b6", 1)
    prect(x0 + 1, y0 + 1, x1 - 1, y0 + 11, "#e2e7ee")
    prect(x0 + 3, y0 + 12, x1 - 2, y1 - 2, "#ffffff", "#c0c6ce", 0.8)
    prect(x0 + 4, y0 + 3, x0 + 11, y0 + 9, "#86aad6")
    anns.append(dict(x=(x0 + 14) / W, y=1 - (y0 + 6) / H, xref="paper", yref="paper", text=title,
                     showarrow=False, xanchor="left", yanchor="middle",
                     font=dict(family=FONT, size=5.6, color="#8d97a5")))
    for k, bx in enumerate((x1 - 45, x1 - 30, x1 - 15)):
        col = "#d9534f" if (active and k == 2) else "#dfe3e9"
        prect(bx, y0 + 2, bx + 13, y0 + 9.5, col, "#9aa3af", 0.6)

for n, P in PANELS.items():
    xa, ya = ax(n)
    shapes.append(dict(type="line", xref=f"{xa} domain", yref=ya, x0=0, x1=1, y0=current_price, y1=current_price,
                       line=dict(color="#c4c4c4", width=0.8), layer="below"))
    anns.append(dict(x=(P["px"][1] + 1) / W, y=current_price, xref="paper", yref=ya, text=current_txt,
                     showarrow=False, xanchor="left", yanchor="middle", bgcolor="#000000", borderpad=0.4,
                     font=dict(family=FONT, size=AXF, color="#ffffff")))

for n in (1, 2):
    xa, ya = ax(n)
    shapes.append(dict(type="line", xref=f"{xa} domain", yref=ya, x0=0, x1=1, y0=level_price, y1=level_price,
                       line=dict(color="#7cc47c", width=0.8), layer="below"))
    anns.append(dict(x=(PANELS[n]["px"][1] + 1) / W, y=level_price, xref="paper", yref=ya, text=level_txt,
                     showarrow=False, xanchor="left", yanchor="middle", bgcolor="#3fae49", borderpad=0.4,
                     font=dict(family=FONT, size=AXF, color="#ffffff")))

vlines = [(1, 44, "2025.06.01 00:00"), (2, 44, "2025.06.23 00:00"), (3, 45, "2025.06.23 00:00"), (4, 14, "2025.06.23 00:00")]
for n, xi, txt in vlines:
    xa, ya = ax(n)
    shapes.append(dict(type="line", xref=xa, yref=f"{ya} domain", x0=xi, x1=xi, y0=0, y1=1,
                       line=dict(color="#b57ee6", width=1.1), layer="below"))
    anns.append(dict(x=xi, y=1 - (PANELS[n]["py"][1] + 0.6) / H, xref=xa, yref="paper", text=txt, showarrow=False,
                     xanchor="center", yanchor="top", bgcolor="#a040e0", borderpad=0.6,
                     font=dict(family=FONT, size=AXF, color="#ffffff")))

rects = [(3, 48.3, 49.8, 1.5935, 1.6115), (4, 37.9, 48.5, 1.6025, 1.6110), (4, 37.0, 47.0, 1.5935, 1.6025),
         (5, 61.4, 97.0, 1.6025, 1.6102), (5, 57.1, 97.0, 1.5934, 1.6024)]
for n, x0, x1, y0, y1 in rects:
    xa, ya = ax(n)
    shapes.append(dict(type="rect", xref=xa, yref=ya, x0=x0, x1=x1, y0=y0, y1=y1,
                       line=dict(color="#b35a5a", width=1), fillcolor="rgba(0,0,0,0)", layer="above"))

infos = [(1, "EURCAD,Monthly  1.55797 1.60983 1.55723 1.60370"), (2, "EURCAD,Weekly  1.57473 1.60983 1.57424 1.60370"),
         (3, "EURCAD,Daily  1.59521 1.60960 1.59567 1.60370"), (4, "EURCAD,H4  1.60263 1.60903 1.60131 1.60370"),
         (5, "EURCAD,H1  1.60356 1.60502 1.60322 1.60370")]
for n, txt in infos:
    P = PANELS[n]
    anns.append(dict(x=(P["px"][0] + 3) / W, y=1 - (P["py"][0] + 1.5) / H, xref="paper", yref="paper",
                     text="▼ " + txt, showarrow=False, xanchor="left", yanchor="top",
                     font=dict(family=FONT, size=AXF, color="#111111")))

anns.append(dict(x=226 / W, y=1 - 136 / H, xref="paper", yref="paper", text="EURCAD　グイっと", showarrow=False,
                 xanchor="left", yanchor="middle", font=dict(family="Noto Sans CJK JP", size=11, color="#d0d0d0")))
anns.append(dict(x=225 / W, y=1 - 135 / H, xref="paper", yref="paper", text="EURCAD　グイっと", showarrow=False,
                 xanchor="left", yanchor="middle", font=dict(family="Noto Sans CJK JP", size=11, color="#666666")))

fig.update_layout(width=W, height=H, margin=dict(l=0, r=0, t=0, b=0), paper_bgcolor="#d3dae5",
                  plot_bgcolor="rgba(0,0,0,0)", showlegend=False, shapes=shapes, annotations=anns,
                  font=dict(family=FONT))
fig.write_html("out.html")
